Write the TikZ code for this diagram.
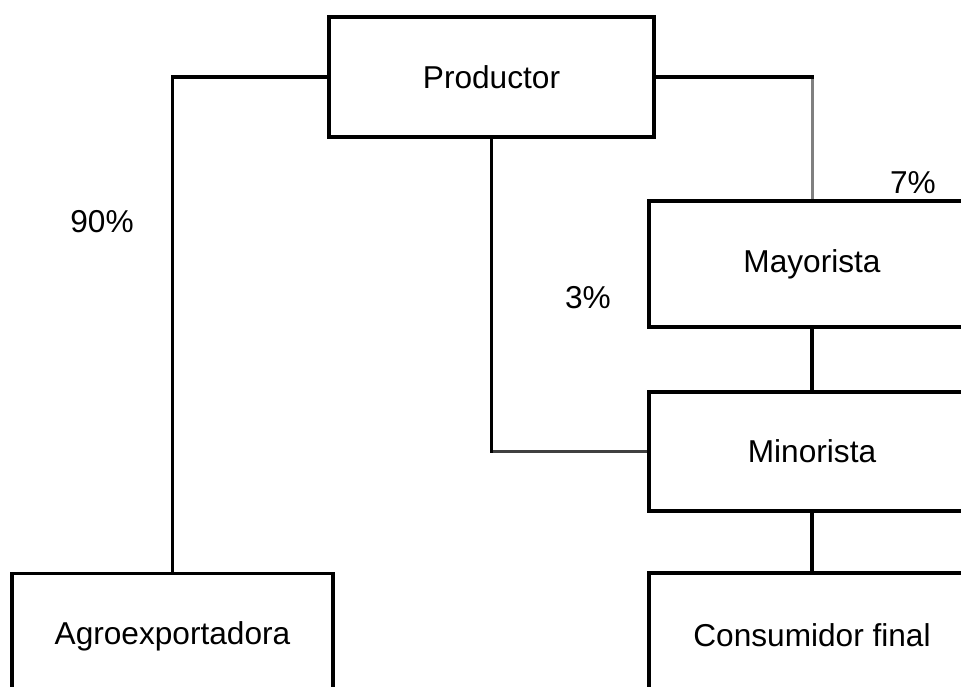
\documentclass[tikz,border=0pt]{standalone}
\usepackage{fontspec}
\setmainfont{Liberation Sans}
\usepackage{tikz}
\usetikzlibrary{calc}

\tikzset{
	caja/.style={draw, line width=1.9pt, minimum width=6.5cm, minimum height=2.4cm, inner sep=0pt},
	flujo/.style={line width=1.9pt},
	flujofino/.style={line width=1.7pt, draw=black!50},
	pct/.style={inner sep=0pt}
}

\begin{document}
\begin{tikzpicture}[font=\fontsize{18}{22}\selectfont]
	\clip (0,0) rectangle (19.22,-13.74);	%frame of the page
	\useasboundingbox (0,0) rectangle (19.22,-13.74);

	\node[caja] (prod) at (9.83,-1.54) {Productor};
	\node[caja, minimum width=6.52cm, minimum height=2.52cm] (mayor) at (16.24,-5.28) {Mayorista};
	\node[caja, minimum width=6.52cm, minimum height=2.38cm] (minor) at (16.24,-9.03) {Minorista};
	\node[caja, minimum width=6.52cm, minimum height=2.48cm] (consu) at (16.24,-12.70) {Consumidor final};
	\node[caja, minimum width=6.42cm, minimum height=2.5cm] (agro) at (3.45,-12.72) {Agroexportadora};

	\coordinate (codoM) at (prod.east -| mayor.north);	%corner above the wholesaler
	\coordinate (codoN) at (prod.south |- minor.west);	%corner left of the retailer

	\draw[flujo] (prod.west) -| (agro.north);	%to the exporter
	\draw[flujofino] (codoM) -- (mayor.north);	%to the wholesaler
	\draw[flujo, line cap=rect] (prod.east) -- (codoM);
	\draw[flujofino, line width=1.3pt, draw=black!75] (codoN) -- (minor.west);	%to the retailer
	\draw[flujo, line cap=rect] (prod.south) -- (codoN);
	\draw[flujo] (mayor.south) -- (minor.north);
	\draw[flujo] (minor.south) -- (consu.north);

	\node[pct] (p90) at (2.04,-4.44) {90\%};
	\node[pct] (p3) at (11.76,-5.96) {3\%};
	\node[pct] (p7) at (18.26,-3.66) {7\%};
\end{tikzpicture}
\end{document}
